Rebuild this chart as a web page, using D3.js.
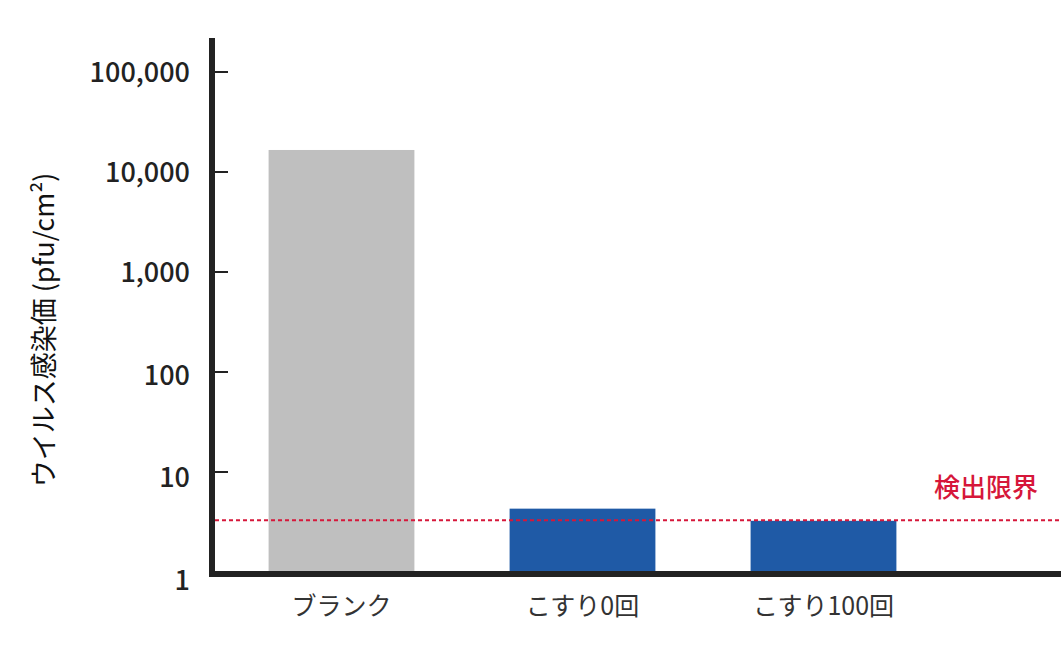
<!DOCTYPE html>
<html>
<head>
<meta charset="utf-8">
<script src="https://cdn.jsdelivr.net/npm/d3@7"></script>
<style>
  body { margin: 0; background: #fff; }
  text { font-family: "Noto Sans CJK JP", "Noto Sans", sans-serif; }
</style>
</head>
<body>
<div id="chart"></div>
<script>
// data
const categories = ["ブランク", "こすり0回", "こすり100回"];
const values = [16600, 4.3, 3.25];
const barColors = ["#bfbfbf", "#1f5aa6", "#1f5aa6"];
const tickValues = [1, 10, 100, 1000, 10000, 100000];
const detectionLimit = 3.3;
const limitLabel = "検出限界";
const yTitle = "ウイルス感染価 (pfu/cm²)";

const width = 1063, height = 657;
const axisX = 212, baseY = 572, topY = 38;

const svg = d3.select("#chart")
  .append("svg")
  .attr("width", width)
  .attr("height", height);

const y = d3.scaleLog()
  .domain([1, Math.pow(10, (baseY - topY) / 100)])
  .range([baseY, topY]);

const x = d3.scaleBand()
  .domain(categories)
  .range([221, 944])
  .paddingInner(0.395)
  .paddingOuter(0.1975);

// bars
svg.selectAll("rect.bar")
  .data(categories)
  .join("rect")
  .attr("class", "bar")
  .attr("x", d => x(d))
  .attr("width", x.bandwidth())
  .attr("y", (d, i) => y(values[i]))
  .attr("height", (d, i) => baseY - y(values[i]))
  .attr("fill", (d, i) => barColors[i]);

// detection limit line
svg.append("line")
  .attr("x1", axisX + 3)
  .attr("x2", 1061)
  .attr("y1", y(detectionLimit))
  .attr("y2", y(detectionLimit))
  .attr("stroke", "#d6173a")
  .attr("stroke-width", 2)
  .attr("stroke-dasharray", "4,3");

svg.append("text")
  .attr("x", 1038)
  .attr("y", y(detectionLimit) - 23)
  .attr("text-anchor", "end")
  .attr("font-size", 26)
  .attr("font-weight", 500)
  .attr("fill", "#d6173a")
  .text(limitLabel);

// y axis labels (small ones sit a bit lower, like the original)
const labelShift = { 1: 8, 10: 5, 100: 3 };
const yAxis = svg.append("g")
  .attr("transform", `translate(${axisX},0)`)
  .call(d3.axisLeft(y).tickValues(tickValues).tickSize(0).tickPadding(0)
    .tickFormat(d3.format(",")));
yAxis.select(".domain").remove();
yAxis.selectAll(".tick line").remove();
yAxis.selectAll(".tick text")
  .attr("x", -22)
  .attr("y", d => labelShift[d] || 0)
  .attr("dy", "0.35em")
  .attr("font-size", 27)
  .attr("font-weight", 500)
  .attr("font-family", "'Noto Sans CJK JP', 'Noto Sans', sans-serif")
  .attr("fill", "#222");

svg.selectAll("line.tick")
  .data(tickValues.filter(d => d > 1))
  .join("line")
  .attr("class", "tick")
  .attr("x1", axisX)
  .attr("x2", axisX + 16)
  .attr("y1", d => y(d))
  .attr("y2", d => y(d))
  .attr("stroke", "#222")
  .attr("stroke-width", 2);

svg.append("line")
  .attr("x1", axisX)
  .attr("x2", axisX)
  .attr("y1", topY)
  .attr("y2", baseY + 5)
  .attr("stroke", "#222")
  .attr("stroke-width", 6);

// x axis
svg.append("line")
  .attr("x1", axisX - 3)
  .attr("x2", 1061)
  .attr("y1", baseY + 2)
  .attr("y2", baseY + 2)
  .attr("stroke", "#222")
  .attr("stroke-width", 6);

svg.selectAll("text.cat")
  .data(categories)
  .join("text")
  .attr("class", "cat")
  .attr("x", d => x(d) + x.bandwidth() / 2)
  .attr("y", 615)
  .attr("text-anchor", "middle")
  .attr("font-size", 25)
  .attr("fill", "#333")
  .text(d => d);

// y title
svg.append("text")
  .attr("transform", "translate(54,330) rotate(-90)")
  .attr("text-anchor", "middle")
  .attr("font-size", 27)
  .attr("fill", "#111")
  .text(yTitle);
</script>
</body>
</html>
